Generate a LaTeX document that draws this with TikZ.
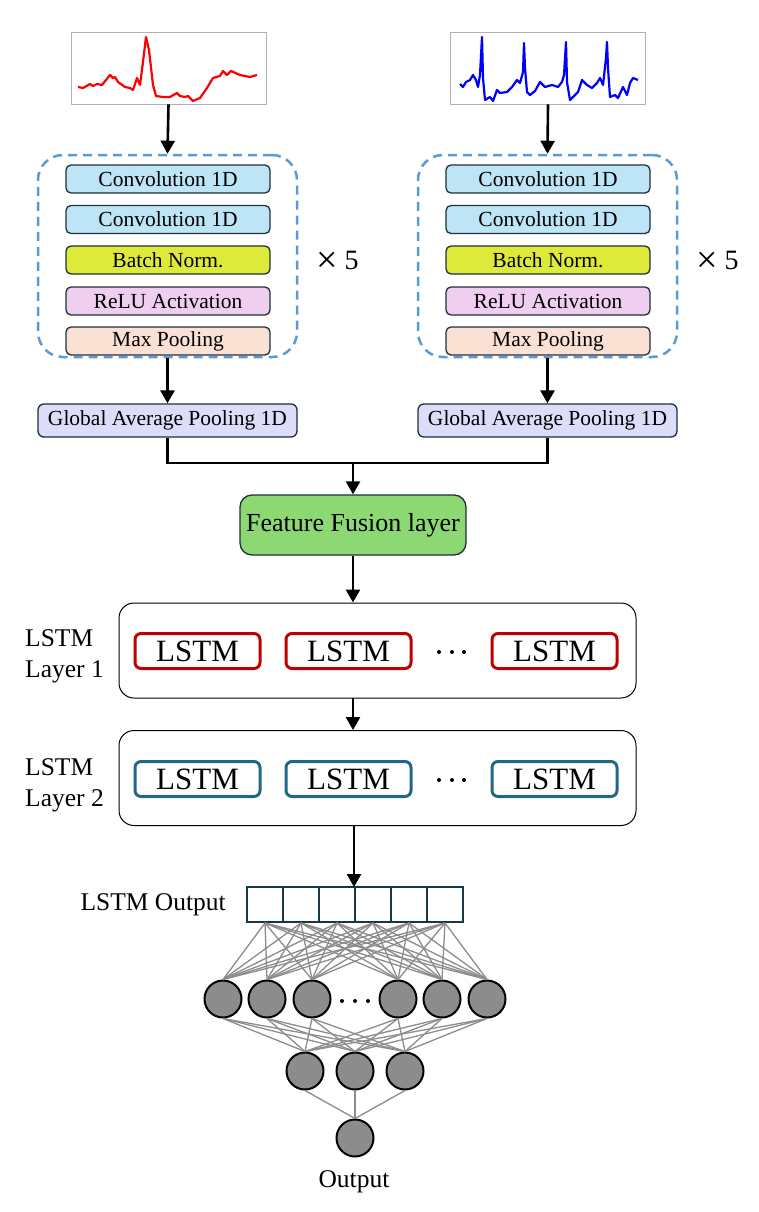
\documentclass[tikz,border=0pt]{standalone}
\usepackage{fontspec}
\setmainfont{Liberation Serif}
\usetikzlibrary{arrows.meta}
\definecolor{convc}{RGB}{190,229,245}
\definecolor{bnc}{RGB}{222,234,58}
\definecolor{reluc}{RGB}{240,206,240}
\definecolor{poolc}{RGB}{251,225,212}
\definecolor{gapc}{RGB}{221,221,249}
\definecolor{fusc}{RGB}{140,216,114}
\definecolor{bordc}{RGB}{28,48,60}
\definecolor{dashc}{RGB}{91,155,213}
\definecolor{redl}{RGB}{192,0,0}
\definecolor{bluel}{RGB}{33,103,138}
\definecolor{cellc}{RGB}{23,55,72}
\definecolor{neuc}{RGB}{140,140,140}
\definecolor{nnline}{RGB}{140,140,140}
\definecolor{sigred}{RGB}{255,0,0}
\definecolor{sigblue}{RGB}{0,0,255}
\newcommand{\bigtimes}{\raisebox{-3pt}{\fontsize{38}{38}\selectfont ×}}
\begin{document}
\begin{tikzpicture}[x=1pt,y=-1pt,
  blk/.style={draw=bordc, line width=1.3pt, rounded corners=5pt, minimum width=204pt, minimum height=28pt, inner sep=0pt, font=\fontsize{21.5}{24}\selectfont},
  gapbox/.style={draw=bordc, fill=gapc, line width=1.3pt, rounded corners=6pt, minimum width=259pt, minimum height=33pt, inner sep=0pt, font=\fontsize{21.5}{24}\selectfont},
  dashbox/.style={draw=dashc, dash pattern=on 9pt off 6pt, line width=2.5pt, rounded corners=25pt, minimum width=259pt, minimum height=202pt, inner sep=0pt},
  sigbox/.style={draw=black!30, line width=0.8pt, minimum width=195pt, minimum height=72pt, inner sep=0pt},
  arr/.style={line width=2.6pt, -{Triangle[length=13pt,width=14pt]}},
  lstmouter/.style={draw=black, line width=1pt, rounded corners=15pt, minimum width=517pt, minimum height=95pt, inner sep=0pt},
  lstmr/.style={draw=redl, line width=3pt, rounded corners=6pt, minimum width=125pt, minimum height=35pt, inner sep=0pt, font=\fontsize{31}{34}\selectfont},
  lstmb/.style={lstmr, draw=bluel},
  lbl/.style={font=\fontsize{25.5}{31}\selectfont, align=left, inner sep=0pt},
  cell/.style={draw=cellc, line width=2pt, minimum width=36pt, minimum height=35pt, inner sep=0pt},
  neu/.style={circle, draw=black, fill=neuc, line width=2pt, minimum size=37pt, inner sep=0pt},
  nn/.style={draw=nnline, line width=1.3pt},
  times/.style={font=\fontsize{28}{32}\selectfont, inner sep=0pt}
]
\useasboundingbox (0,0) rectangle (758,1212);

% signals
\node[sigbox] (sigL) at (168.5,68) {};
\node[sigbox] (sigR) at (548,68) {};
\draw[sigred, line width=2.2pt, line join=round] plot coordinates {(78,87) (83,88) (90,84) (93,86) (97,84) (102,85) (110,75) (113,78) (115,77) (118,82) (125,87) (130,88) (133,90) (137,78) (140,85) (143,62) (146,37) (149,50) (153,85) (156,96) (163,97) (170,97) (177,93) (180,96) (185,97) (188,96) (193,101) (200,98) (207,88) (213,78) (220,76) (223,71) (227,75) (231,71) (240,75) (250,77) (257,75)};
\draw[sigblue, line width=2.2pt, line join=round] plot coordinates {(460,84) (463,87) (466,82) (470,80) (473,75) (476,80) (478,87) (480,75) (482,37) (483,78) (485,100) (490,97) (493,101) (497,90) (500,93) (507,92) (512,87) (517,80) (520,83) (523,72) (524,43) (525,68) (527,92) (530,95) (535,91) (540,82) (545,87) (552,85) (558,87) (562,82) (564,75) (566,42) (567,82) (570,100) (573,97) (578,92) (582,80) (587,85) (592,88) (597,83) (600,78) (603,85) (606,58) (607,42) (608,68) (610,97) (615,95) (618,98) (623,87) (627,95) (630,83) (633,78) (638,80)};

% dashed groups
\node[dashbox] (dashL) at (167.5,256) {};
\node[dashbox] (dashR) at (547.5,256) {};

% left blocks
\node[blk, fill=convc] (c1L) at (168,179) {Convolution 1D};
\node[blk, fill=convc] (c2L) at (168,219.5) {Convolution 1D};
\node[blk, fill=bnc] (bnL) at (168,260) {Batch Norm.};
\node[blk, fill=reluc] (reL) at (168,301) {ReLU Activation};
\node[blk, fill=poolc] (mpL) at (168,341) {Max Pooling};
\node[times] (x5L) at (337.5,262) {\bigtimes\ 5};
% right blocks
\node[blk, fill=convc] (c1R) at (548,179) {Convolution 1D};
\node[blk, fill=convc] (c2R) at (548,219.5) {Convolution 1D};
\node[blk, fill=bnc] (bnR) at (548,260) {Batch Norm.};
\node[blk, fill=reluc] (reR) at (548,301) {ReLU Activation};
\node[blk, fill=poolc] (mpR) at (548,341) {Max Pooling};
\node[times] (x5R) at (717.5,262) {\bigtimes\ 5};

\draw[arr] (sigL.south) -- (dashL.north);
\draw[arr] (sigR.south) -- (dashR.north);

% GAP
\node[gapbox] (gapL) at (167.5,420.5) {Global Average Pooling 1D};
\node[gapbox] (gapR) at (547.5,420.5) {Global Average Pooling 1D};
\draw[arr] (dashL.south) -- (gapL.north);
\draw[arr] (dashR.south) -- (gapR.north);

% fusion
\node[draw=bordc, fill=fusc, line width=1.3pt, rounded corners=12pt, minimum width=226pt, minimum height=60pt, inner sep=0pt, font=\fontsize{26}{30}\selectfont] (fus) at (353,525) {Feature Fusion layer};
\coordinate (junc) at (353,463);
\draw[line width=2.6pt] (gapL.south) |- (junc) -| (gapR.south);
\draw[arr] (junc) -- (fus.north);

% LSTM layers
\node[lstmouter] (L1) at (377.5,650.5) {};
\node[lstmouter] (L2) at (377.5,778) {};
\node[lstmr] (r1) at (197.5,651) {LSTM};
\node[lstmr] (r2) at (348.5,651) {LSTM};
\node[lstmr] (r3) at (554.5,651) {LSTM};
\node[lstmb] (b1) at (197.5,779) {LSTM};
\node[lstmb] (b2) at (348.5,779) {LSTM};
\node[lstmb] (b3) at (554.5,779) {LSTM};
\foreach \y in {652,780}
  \foreach \x in {439,452,464}
    \fill (\x,\y) circle (2pt);
\node[lbl, anchor=west] (lab1) at (25,656) {LSTM\\Layer 1};
\node[lbl, anchor=west] (lab2) at (25,785) {LSTM\\Layer 2};
\draw[arr] (fus.south) -- (L1.north -| fus.south);
\coordinate (a1) at (353,698);
\coordinate (a2) at (353,730);
\draw[arr] (a1) -- (a2);

% output array
\foreach \i/\x in {1/265,2/301,3/337,4/373,5/409,6/445}
  \node[cell] (c\i) at (\x,904.5) {};
\node[lbl, anchor=east] (lout) at (226,905) {LSTM Output};
\coordinate (a3) at (354,826);
\coordinate (a4) at (354,887);
\draw[arr] (a3) -- (a4);

% neurons
\foreach \j/\x in {1/223,2/267,3/312,4/398,5/442,6/487}
  \node[neu] (h\j) at (\x,999) {};
\foreach \x in {342,355,368}
  \fill (\x,1001) circle (2pt);
\foreach \k/\x in {1/305,2/355,3/405}
  \node[neu] (g\k) at (\x,1071) {};
\node[neu] (o) at (355,1138) {};
\node[lbl] (otxt) at (354,1182) {Output};

\foreach \i in {1,...,6}
  \foreach \j in {1,...,6}
    \draw[nn] (c\i.south) -- (h\j.north);
\foreach \j in {1,...,6}
  \foreach \k in {1,2,3}
    \draw[nn] (h\j.south) -- (g\k.north);
\foreach \k in {1,2,3}
  \draw[nn] (g\k.south) -- (o.north);
\end{tikzpicture}
\end{document}
